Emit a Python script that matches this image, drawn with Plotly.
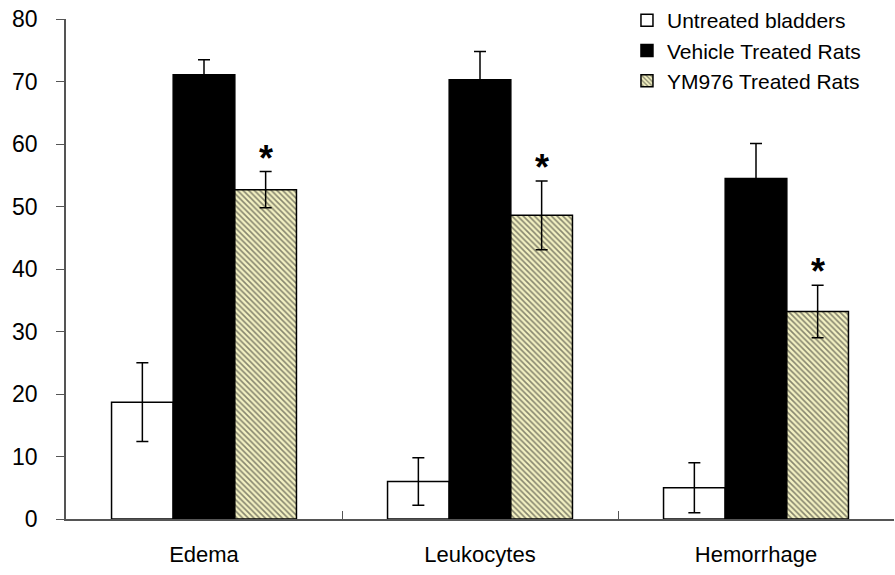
import plotly.graph_objects as go

categories = ["Edema", "Leukocytes", "Hemorrhage"]
untreated = [18.7, 6.0, 5.0]
untreated_err = [6.3, 3.8, 4.0]
vehicle = [71.1, 70.3, 54.5]
vehicle_err = [2.4, 4.5, 5.6]
ym976 = [52.7, 48.6, 33.2]
ym976_err = [2.9, 5.5, 4.2]
star_y = [55.6, 54.1, 37.4]

FONT = "Liberation Sans, Arial, sans-serif"

fig = go.Figure()
fig.add_trace(go.Bar(
    name="Untreated bladders", x=categories, y=untreated,
    marker=dict(color="white", line=dict(color="black", width=1.5)),
    error_y=dict(type="data", array=untreated_err, color="black", thickness=1.5, width=6),
))
fig.add_trace(go.Bar(
    name="Vehicle Treated Rats", x=categories, y=vehicle,
    marker=dict(color="black", line=dict(color="black", width=1.5)),
    error_y=dict(type="data", array=vehicle_err, color="black", thickness=1.5, width=6),
))
fig.add_trace(go.Bar(
    name="YM976 Treated Rats", x=categories, y=ym976,
    marker=dict(color="#f3f1c2", line=dict(color="black", width=1.5),
                pattern=dict(shape="\\", fgcolor="#1a1a1a", bgcolor="#f3f1c2", size=4, solidity=0.4)),
    error_y=dict(type="data", array=ym976_err, color="black", thickness=1.5, width=6),
))

for c, sy in zip(categories, star_y):
    fig.add_annotation(x=c, y=sy, xshift=62, yshift=-9, text="<b>*</b>", showarrow=False,
                       yanchor="bottom", font=dict(size=36, color="black", family=FONT))

fig.update_layout(
    width=895, height=575,
    margin=dict(l=66, r=1, t=18, b=56),
    plot_bgcolor="white", paper_bgcolor="white",
    barmode="group", bargap=0.33, bargroupgap=0,
    font=dict(family=FONT, color="black", size=20),
    showlegend=True,
    legend=dict(x=0.6775, xanchor="left", y=1.0359, yanchor="top", bgcolor="rgba(0,0,0,0)",
                font=dict(size=21, family=FONT), tracegroupgap=0, itemwidth=30),
    xaxis=dict(showline=True, linecolor="#555555", linewidth=1.5, ticks="inside", ticklen=8,
               tickcolor="#555555", tickson="boundaries", ticklabelstandoff=15,
               tickfont=dict(size=22), showgrid=False, automargin=False),
    yaxis=dict(range=[0, 80], dtick=10, showline=True, linecolor="#555555", linewidth=1.5,
               ticks="outside", ticklen=8, tickcolor="#555555", ticklabelstandoff=14,
               ticklabeloverflow="allow",
               tickfont=dict(size=23), showgrid=False, zeroline=False, automargin=False),
)

fig.write_html("out.html", config={"displayModeBar": False},
               post_script="document.body.style.margin='0';")
